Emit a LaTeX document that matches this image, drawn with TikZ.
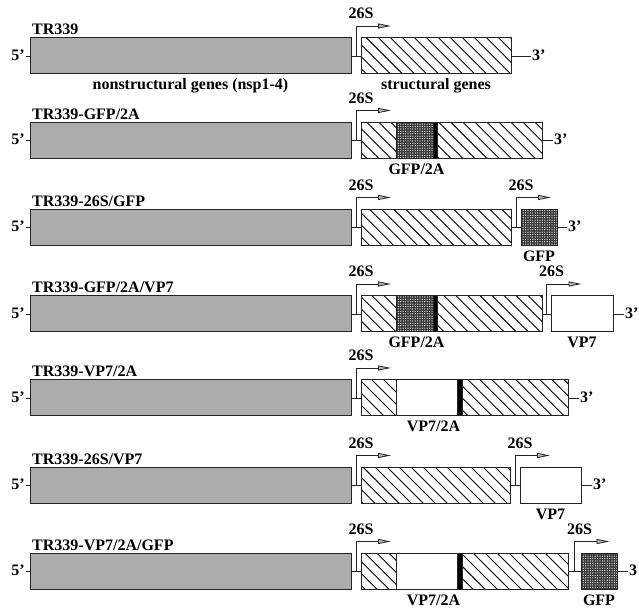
\documentclass[tikz,border=0pt]{standalone}
\usepackage{fontspec}
\setmainfont{Liberation Serif}
\usetikzlibrary{arrows.meta,positioning,calc,patterns,patterns.meta}
\definecolor{nsgray}{RGB}{172,172,172}
\definecolor{rnaline}{RGB}{35,35,35}

\begin{document}
\begin{tikzpicture}[
  x=1pt,y=1pt,
  font=\bfseries\fontsize{16}{19}\selectfont,
  node distance=10pt,
  seg/.style={draw=rnaline,line width=1pt,minimum height=36pt,inner sep=0pt,outer sep=0pt},
  nsp/.style={seg,fill=nsgray,minimum width=321pt,anchor=west},
  sgh/.style={seg,pattern={Lines[angle=-45,distance=8.5pt,line width=0.9pt]}},
  gfp/.style={seg,preaction={fill=black!78},pattern={Dots[distance=2.4pt,radius=0.6pt]},pattern color=white},
  vpb/.style={seg,fill=white},
  tab/.style={seg,fill=black,minimum width=4pt},
  lbl/.style={inner sep=1pt,text height=10.5pt,text depth=2pt},
  ttl/.style={lbl,anchor=base west},
  ln/.style={rnaline,line width=0.9pt},
  prom/.style={rnaline,line width=0.8pt,-{Triangle[length=13pt,width=5pt,fill=gray!55]}}
]
\useasboundingbox (0,0) rectangle (639,609);

% TR339
\node[nsp] (ns1) at (30,553) {};
\node[ttl] (t1) at ([shift={(1pt,3pt)}]ns1.north west) {TR339};
\node[lbl,left=4pt of ns1] (f1) {5'};
\node[sgh,minimum width=150pt,right=of ns1] (sg1) {};
\node[lbl,right=20pt of sg1] (h1) {3'};
\node[lbl,below=4pt of ns1] (n1) {nonstructural genes (nsp1-4)};
\node[lbl,below=4pt of sg1] (n2) {structural genes};
\coordinate (p1) at ($(ns1.east)!.5!(sg1.west)$);
\coordinate (q1) at ([shift={(35pt,30pt)}]p1);
\node[lbl,anchor=base] (s1) at ([shift={(5pt,37pt)}]p1) {26S};
\draw[ln] (f1) -- (ns1) (ns1) -- (sg1) (sg1) -- (h1);
\draw[prom] (p1) |- (q1);

% TR339-GFP/2A
\node[nsp] (ns2) at (30,468.5) {};
\node[ttl] (t2) at ([shift={(1pt,3pt)}]ns2.north west) {TR339-GFP/2A};
\node[lbl,left=4pt of ns2] (f2) {5'};
\node[sgh,minimum width=35pt,right=of ns2] (sg2a) {};
\node[gfp,minimum width=37pt,right=0pt of sg2a] (gf2) {};
\node[tab,right=0pt of gf2] (ta2) {};
\node[sgh,minimum width=105pt,right=0pt of ta2] (sg2b) {};
\node[lbl,right=11pt of sg2b] (h2) {3'};
\node[lbl,below=4pt of gf2,xshift=2pt] (n3) {GFP/2A};
\coordinate (p2) at ($(ns2.east)!.5!(sg2a.west)$);
\coordinate (q2) at ([shift={(35pt,30pt)}]p2);
\node[lbl,anchor=base] (s2) at ([shift={(5pt,37pt)}]p2) {26S};
\draw[ln] (f2) -- (ns2) (ns2) -- (sg2a) (sg2b) -- (h2);
\draw[prom] (p2) |- (q2);

% TR339-26S/GFP
\node[nsp] (ns3) at (30,381.5) {};
\node[ttl] (t3) at ([shift={(1pt,3pt)}]ns3.north west) {TR339-26S/GFP};
\node[lbl,left=4pt of ns3] (f3) {5'};
\node[sgh,minimum width=150pt,right=of ns3] (sg3) {};
\node[gfp,minimum width=36pt,right=of sg3] (gf3) {};
\node[lbl,right=10pt of gf3] (h3) {3'};
\node[lbl,below=4pt of gf3] (n4) {GFP};
\coordinate (p3) at ($(ns3.east)!.5!(sg3.west)$);
\coordinate (q3) at ([shift={(35pt,30pt)}]p3);
\coordinate (p4) at ($(sg3.east)!.5!(gf3.west)$);
\coordinate (q4) at ([shift={(35pt,30pt)}]p4);
\node[lbl,anchor=base] (s3) at ([shift={(5pt,37pt)}]p3) {26S};
\node[lbl,anchor=base] (s4) at ([shift={(5pt,37pt)}]p4) {26S};
\draw[ln] (f3) -- (ns3) (ns3) -- (sg3) (sg3) -- (gf3) (gf3) -- (h3);
\draw[prom] (p3) |- (q3);
\draw[prom] (p4) |- (q4);

% TR339-GFP/2A/VP7
\node[nsp] (ns4) at (30,295) {};
\node[ttl] (t4) at ([shift={(1pt,3pt)}]ns4.north west) {TR339-GFP/2A/VP7};
\node[lbl,left=4pt of ns4] (f4) {5'};
\node[sgh,minimum width=35pt,right=of ns4] (sg4a) {};
\node[gfp,minimum width=37pt,right=0pt of sg4a] (gf4) {};
\node[tab,right=0pt of gf4] (ta4) {};
\node[sgh,minimum width=105pt,right=0pt of ta4] (sg4b) {};
\node[vpb,minimum width=62pt,right=9pt of sg4b] (vp4) {};
\node[lbl,right=11pt of vp4] (h4) {3'};
\node[lbl,below=4pt of gf4,xshift=2pt] (n5) {GFP/2A};
\node[lbl,below=4pt of vp4] (n6) {VP7};
\coordinate (p5) at ($(ns4.east)!.5!(sg4a.west)$);
\coordinate (q5) at ([shift={(35pt,30pt)}]p5);
\coordinate (p6) at ($(sg4b.east)!.5!(vp4.west)$);
\coordinate (q6) at ([shift={(35pt,30pt)}]p6);
\node[lbl,anchor=base] (s5) at ([shift={(5pt,37pt)}]p5) {26S};
\node[lbl,anchor=base] (s6) at ([shift={(5pt,37pt)}]p6) {26S};
\draw[ln] (f4) -- (ns4) (ns4) -- (sg4a) (sg4b) -- (vp4) (vp4) -- (h4);
\draw[prom] (p5) |- (q5);
\draw[prom] (p6) |- (q6);

% TR339-VP7/2A
\node[nsp] (ns5) at (30,211) {};
\node[ttl] (t5) at ([shift={(1pt,3pt)}]ns5.north west) {TR339-VP7/2A};
\node[lbl,left=4pt of ns5] (f5) {5'};
\node[sgh,minimum width=35pt,right=of ns5] (sg5a) {};
\node[vpb,minimum width=61pt,right=0pt of sg5a] (vp5) {};
\node[tab,minimum width=5pt,right=0pt of vp5] (ta5) {};
\node[sgh,minimum width=106pt,right=0pt of ta5] (sg5b) {};
\node[lbl,right=11pt of sg5b] (h5) {3'};
\node[lbl,below=4pt of vp5,xshift=7pt] (n7) {VP7/2A};
\coordinate (p7) at ($(ns5.east)!.5!(sg5a.west)$);
\coordinate (q7) at ([shift={(35pt,30pt)}]p7);
\node[lbl,anchor=base] (s7) at ([shift={(5pt,37pt)}]p7) {26S};
\draw[ln] (f5) -- (ns5) (ns5) -- (sg5a) (sg5b) -- (h5);
\draw[prom] (p7) |- (q7);

% TR339-26S/VP7
\node[nsp] (ns6) at (30,123.5) {};
\node[ttl] (t6) at ([shift={(1pt,3pt)}]ns6.north west) {TR339-26S/VP7};
\node[lbl,left=4pt of ns6] (f6) {5'};
\node[sgh,minimum width=149pt,right=of ns6] (sg6) {};
\node[vpb,minimum width=61pt,right=of sg6] (vp6) {};
\node[lbl,right=11pt of vp6] (h6) {3'};
\node[lbl,below=4pt of vp6] (n8) {VP7};
\coordinate (p8) at ($(ns6.east)!.5!(sg6.west)$);
\coordinate (q8) at ([shift={(35pt,30pt)}]p8);
\coordinate (p9) at ($(sg6.east)!.5!(vp6.west)$);
\coordinate (q9) at ([shift={(35pt,30pt)}]p9);
\node[lbl,anchor=base] (s8) at ([shift={(5pt,37pt)}]p8) {26S};
\node[lbl,anchor=base] (s9) at ([shift={(5pt,37pt)}]p9) {26S};
\draw[ln] (f6) -- (ns6) (ns6) -- (sg6) (sg6) -- (vp6) (vp6) -- (h6);
\draw[prom] (p8) |- (q8);
\draw[prom] (p9) |- (q9);

% TR339-VP7/2A/GFP
\node[nsp] (ns7) at (30,37.5) {};
\node[ttl] (t7) at ([shift={(1pt,3pt)}]ns7.north west) {TR339-VP7/2A/GFP};
\node[lbl,left=4pt of ns7] (f7) {5'};
\node[sgh,minimum width=35pt,right=of ns7] (sg7a) {};
\node[vpb,minimum width=61pt,right=0pt of sg7a] (vp7) {};
\node[tab,minimum width=5pt,right=0pt of vp7] (ta7) {};
\node[sgh,minimum width=106pt,right=0pt of ta7] (sg7b) {};
\node[gfp,minimum width=36pt,right=13pt of sg7b] (gf7) {};
\node[lbl,right=11pt of gf7] (h7) {3};
\node[lbl,below=4pt of vp7,xshift=7pt] (n9) {VP7/2A};
\node[lbl,below=4pt of gf7] (n10) {GFP};
\coordinate (p10) at ($(ns7.east)!.5!(sg7a.west)$);
\coordinate (q10) at ([shift={(35pt,30pt)}]p10);
\coordinate (p11) at ($(sg7b.east)!.5!(gf7.west)$);
\coordinate (q11) at ([shift={(35pt,30pt)}]p11);
\node[lbl,anchor=base] (s10) at ([shift={(5pt,37pt)}]p10) {26S};
\node[lbl,anchor=base] (s11) at ([shift={(5pt,37pt)}]p11) {26S};
\draw[ln] (f7) -- (ns7) (ns7) -- (sg7a) (sg7b) -- (gf7) (gf7) -- (h7);
\draw[prom] (p10) |- (q10);
\draw[prom] (p11) |- (q11);
\end{tikzpicture}
\end{document}
